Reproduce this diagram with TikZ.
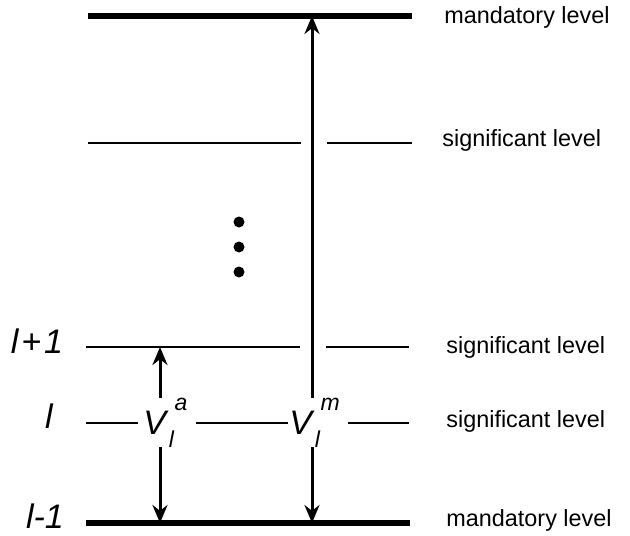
\documentclass[tikz,border=0pt]{standalone}
\usepackage{fontspec}
\setmainfont{Liberation Sans}
\usetikzlibrary{arrows.meta}
\newcommand{\vsub}{\fontsize{11.5}{12}\selectfont}
\newcommand{\vsym}[4]{\makebox[#4][l]{\kern#3V\kern0.08em\rlap{\raisebox{-0.38em}{\vsub l}}\raisebox{0.72em}{\vsub\kern0.25em #1}}}
\begin{document}
\begin{tikzpicture}[x=0.5pt,y=-0.5pt,
  mand/.style={line width=2.6pt},
  sig/.style={line width=1pt},
  arr/.style={line width=1.5pt,-{Stealth[length=9pt,width=7.5pt]}},
  rlab/.style={anchor=west,font=\fontsize{11.7}{13}\selectfont,inner sep=0pt},
  llab/.style={font=\fontsize{17}{19}\selectfont\itshape,inner sep=0pt,anchor=base},
  vlab/.style={font=\fontsize{17}{19}\selectfont\itshape,inner sep=0pt,anchor=west}]
\useasboundingbox (0,0) rectangle (630,535);
% levels
\coordinate (t1) at (88,16);  \coordinate (t2) at (412,16);
\coordinate (top) at (312,16);
\draw[mand] (t1) -- (t2);
\coordinate (s1a) at (88,143); \coordinate (s1b) at (301,143);
\coordinate (s1c) at (327,143); \coordinate (s1d) at (412,143);
\draw[sig] (s1a) -- (s1b) (s1c) -- (s1d);
\coordinate (p1a) at (86,347); \coordinate (p1b) at (300,347);
\coordinate (p1c) at (326,347); \coordinate (p1d) at (409,347);
\coordinate (up) at (160,347);
\draw[sig] (p1a) -- (p1b) (p1c) -- (p1d);
\coordinate (b1) at (86,523); \coordinate (b2) at (410,523);
\coordinate (ba) at (160,523); \coordinate (bm) at (312,523);
\draw[mand] (b1) -- (b2);
% V labels on level l
\coordinate (l0) at (86,423); \coordinate (l1) at (409,423);
\node[vlab] (va) at (138,423) {\vsym{a}{l}{2.5pt}{28.5pt}};
\node[vlab] (vm) at (288,423) {\vsym{m}{l}{0.5pt}{29.5pt}};
\draw[sig] (l0) -- (va.west);
\draw[sig] (va.east) -- (vm.west);
\draw[sig] (vm.east) -- (l1);
% arrow tails
\coordinate (aup) at (160,398); \coordinate (adn) at (160,447);
\coordinate (mup) at (312,398); \coordinate (mdn) at (312,447);
% arrows
\draw[arr] (aup) -- (up);
\draw[arr] (adn) -- (ba);
\draw[arr] (mup) -- (top);
\draw[arr] (mdn) -- (bm);
% dots
\foreach \yy/\n in {222/d1,247/d2,272/d3}
  \fill (239,\yy) circle (5.5) coordinate (\n);
% left labels
\node[llab] (lp) at (37,353) {l\kern1.5pt+\kern1.5pt1};
\node[llab] (ll) at (49,428) {l};
\node[llab] (lm) at (45,528) {l-1};
% right labels
\node[rlab] (r1) at (444,17) {mandatory level};
\node[rlab] (r2) at (442,140) {significant level};
\node[rlab] (r3) at (446,347) {significant level};
\node[rlab] (r4) at (446,421) {significant level};
\node[rlab] (r5) at (446,520) {mandatory level};
\end{tikzpicture}
\end{document}
